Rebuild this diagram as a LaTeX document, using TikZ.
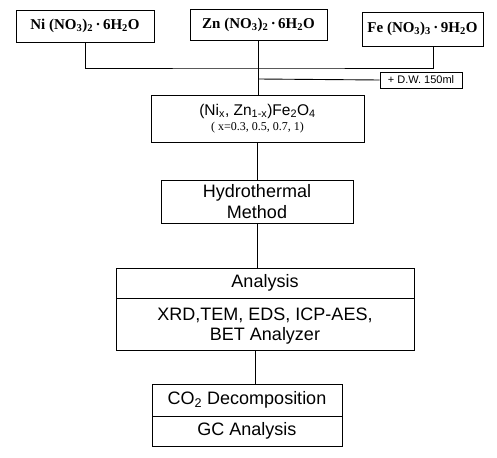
\documentclass[tikz,border=0pt]{standalone}
\usepackage{fontspec}
\setmainfont{Liberation Serif}
\setsansfont{Liberation Sans}
\begin{document}
\begin{tikzpicture}[x=1pt,y=-1pt,line width=0.9pt,
  box/.style={draw,inner sep=0pt,align=center,anchor=center},
  topbox/.style={box,font=\bfseries\fontsize{15}{17}\selectfont},
  sbox/.style={box,font=\sffamily\fontsize{18}{20.5}\selectfont},
  conn/.style={draw,line width=0.9pt}]
\useasboundingbox (0,0) rectangle (497,457);
% top reagents
\node[topbox,minimum width=138pt,minimum height=32pt] (ni) at (85,26)
  {Ni (NO\textsubscript{3})\textsubscript{2}\,·\,6H\textsubscript{2}O};
\node[topbox,minimum width=137pt,minimum height=31pt] (zn) at (258.5,24.5)
  {Zn (NO\textsubscript{3})\textsubscript{2}\,·\,6H\textsubscript{2}O};
\node[topbox,minimum width=121pt,minimum height=34pt] (fe) at (422.5,29)
  {Fe (NO\textsubscript{3})\textsubscript{3}\,·\,9H\textsubscript{2}O};
\node[box,minimum width=82pt,minimum height=16pt,font=\sffamily\fontsize{11}{13}\selectfont] (dw) at (421,80)
  {+ D.W. 150ml};
% composition
\node[box,minimum width=213pt,minimum height=47pt] (comp) at (257.5,118.5)
  {{\sffamily\fontsize{15.5}{17}\selectfont (Ni\textsubscript{x}, Zn\textsubscript{1-x})Fe\textsubscript{2}O\textsubscript{4}}\\[3pt]
   {\fontsize{12}{13}\selectfont ( x=0.3, 0.5, 0.7, 1)}};
% hydrothermal
\node[sbox,minimum width=192pt,minimum height=43pt] (hydro) at (257,201.5)
  {Hydrothermal\\Method};
% analysis
\node[sbox,minimum width=298pt,minimum height=30pt] (anaTop) at (265,283) {Analysis};
\node[sbox,minimum width=298pt,minimum height=52pt,text depth=0pt] (anaBot) at (265,324)
  {XRD,TEM, EDS, ICP-AES,\\BET Analyzer};
% CO2
\node[sbox,minimum width=190pt,minimum height=32pt] (co2Top) at (247,400)
  {CO\textsubscript{2} Decomposition};
\node[sbox,minimum width=190pt,minimum height=30pt] (co2Bot) at (247,431) {GC Analysis};
% connectors
\coordinate (j) at (258,68);
\coordinate (k) at (258,79);
\draw[conn] (ni.south) |- (j) -| ([xshift=10.5pt]fe.south);
\draw[conn] (zn.south) -- (zn.south |- comp.north);
\draw[conn] (k) -- (dw.west);
\draw[conn] (comp.south) -- (comp.south |- hydro.north);
\draw[conn] (hydro.south) -- (hydro.south |- anaTop.north);
\draw[conn] ([xshift=-2pt]hydro.south |- anaBot.south) -- ([xshift=-2pt]hydro.south |- co2Top.north);
\end{tikzpicture}
\end{document}
